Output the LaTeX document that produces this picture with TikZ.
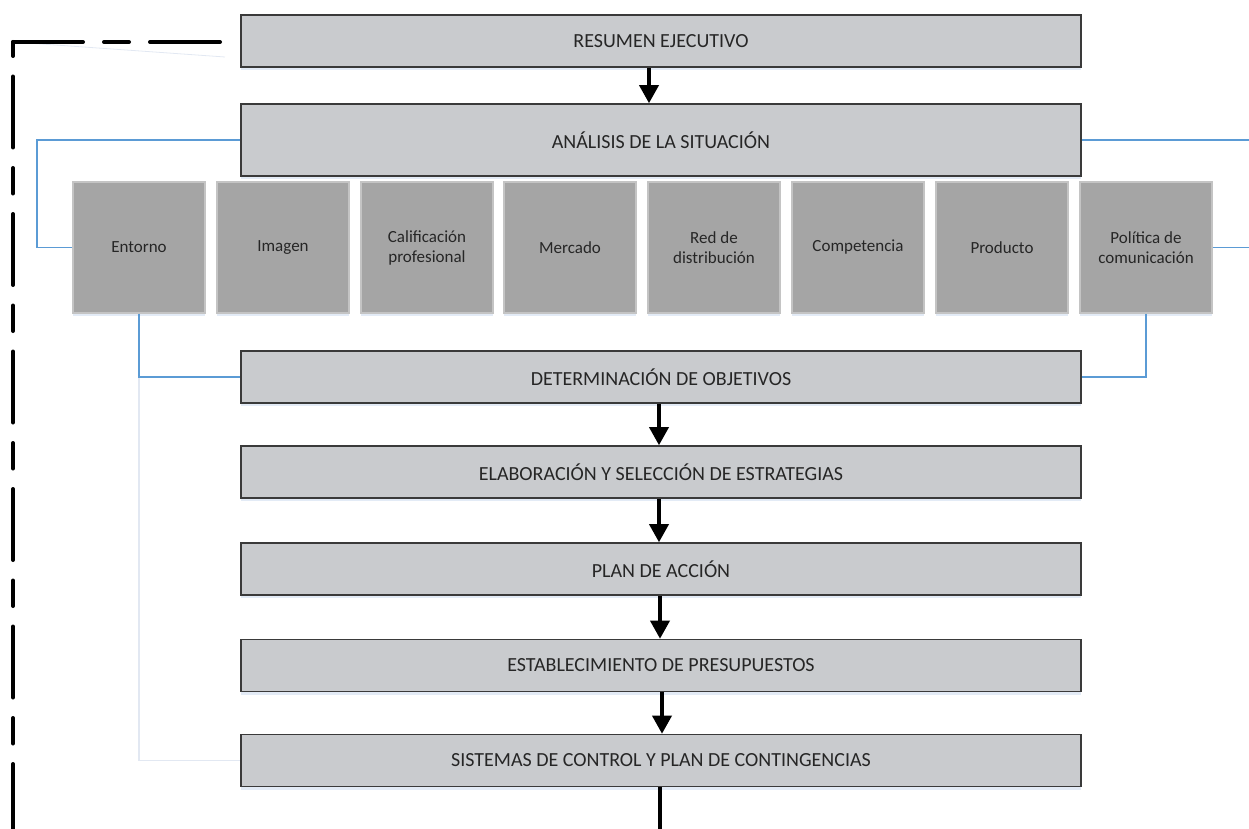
\documentclass[tikz,border=0pt]{standalone}
\usepackage{fontspec}
\setmainfont{Carlito}
\usetikzlibrary{arrows.meta,shadows}
\definecolor{bigfill}{HTML}{C9CBCE}
\definecolor{bigdraw}{HTML}{3A3A3A}
\definecolor{smallfill}{HTML}{A5A5A5}
\definecolor{smalldraw}{HTML}{C4C4C4}
\definecolor{txt}{HTML}{262626}
\definecolor{linkblue}{HTML}{5B9BD5}
\definecolor{faint}{HTML}{E2E8F2}
\definecolor{glow}{HTML}{DCE6F4}
\tikzset{
  bigbox/.style={draw=bigdraw, line width=1.6pt, fill=bigfill, minimum width=840pt,
    inner sep=0pt, text=txt, font=\fontsize{20}{24}\selectfont,
    drop shadow={shadow xshift=0pt, shadow yshift=-3pt, fill=glow, opacity=0.8}},
  smallbox/.style={draw=smalldraw, line width=1.2pt, fill=smallfill, minimum width=132pt,
    minimum height=131pt, inner sep=0pt, text=txt, align=center,
    font=\fontsize{17}{20}\selectfont,
    drop shadow={shadow xshift=0pt, shadow yshift=-3pt, fill=glow, opacity=0.8}},
  flowarrow/.style={line width=3.6pt, black, -{Triangle[width=19pt,length=18pt]}},
  flowline/.style={line width=3.6pt, black},
  link/.style={linkblue, line width=1.5pt},
  faintlink/.style={faint, line width=1.4pt},
  loopdash/.style={line width=4pt, black, line cap=round}
}
\begin{document}
\begin{tikzpicture}[x=1pt,y=-1pt]
\useasboundingbox (0,0) rectangle (1249,829);
% main boxes
\node[bigbox, minimum height=52pt] (res) at (661,41) {RESUMEN EJECUTIVO};
\node[bigbox, minimum height=72pt] (ana) at (661,140) {ANÁLISIS DE LA SITUACIÓN};
\node[bigbox, minimum height=52pt] (det) at (661,377) {DETERMINACIÓN DE OBJETIVOS};
\node[bigbox, minimum height=52pt] (ela) at (661,472) {ELABORACIÓN Y SELECCIÓN DE ESTRATEGIAS};
\node[bigbox, minimum height=52pt] (plan) at (661,569) {PLAN DE ACCIÓN};
\node[bigbox, minimum height=52pt] (est) at (661,665.5) {ESTABLECIMIENTO DE PRESUPUESTOS};
\node[bigbox, minimum height=52pt] (sis) at (661,760.5) {SISTEMAS DE CONTROL Y PLAN DE CONTINGENCIAS};
% small boxes
\node[smallbox] (ent) at (139,247.5) {Entorno};
\node[smallbox] (ima) at (283,247.5) {Imagen};
\node[smallbox] (cal) at (427,247.5) {Calificación\\profesional};
\node[smallbox] (mer) at (570,247.5) {Mercado};
\node[smallbox] (red) at (714,247.5) {Red de\\distribución};
\node[smallbox] (com) at (858,247.5) {Competencia};
\node[smallbox] (pro) at (1002,247.5) {Producto};
\node[smallbox] (pol) at (1146,247.5) {Política de\\comunicación};
% helper coordinates
\coordinate (lx) at (37,0);
\coordinate (rx) at (1249,0);
\coordinate (bottom) at (660,829);
\coordinate (corner) at (13,42);
\coordinate (topend) at (224,42);
\coordinate (leftend) at (13,829);
\coordinate (faintend) at (225,57);
% blue links
\draw[link] (ana.west) -- (ana.west -| lx) -- (lx |- ent.west) -- (ent.west);
\draw[link] (ana.east) -- (ana.east -| rx);
\draw[link] (pol.east) -- (pol.east -| rx);
\draw[faintlink] (ent.south |- det.west) -- (ent.south |- sis.west) -- (sis.west);
\draw[link] (ent.south) -- (ent.south |- det.west) -- (det.west);
\draw[link] (pol.south) -- (pol.south |- det.east) -- (det.east);
% flow arrows
\draw[flowarrow] ([xshift=-12pt]res.south) -- ([xshift=-12pt]ana.north);
\draw[flowarrow] ([xshift=-2pt]det.south) -- ([xshift=-2pt]ela.north);
\draw[flowarrow] ([xshift=-2pt]ela.south) -- ([xshift=-2pt]plan.north);
\draw[flowarrow] ([xshift=-1pt]plan.south) -- ([xshift=-1pt]est.north);
\draw[flowarrow] ([xshift=1pt]est.south) -- ([xshift=1pt]sis.north);
\draw[flowline] ([xshift=-1pt]sis.south) -- (bottom);
% dashed feedback loop
\draw[faint, line width=0.8pt] (corner) -- (faintend);
\draw[loopdash, dash pattern=on 70pt off 21pt on 25pt off 21pt] (corner) -- (topend);
\draw[loopdash, dash pattern=on 25.5pt off 20.5pt on 71pt off 20.5pt, dash phase=11.5pt] (corner) -- (leftend);
\end{tikzpicture}
\end{document}
